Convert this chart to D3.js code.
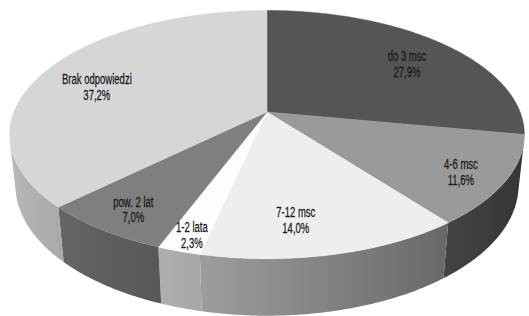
<!DOCTYPE html>
<html>
<head>
<meta charset="utf-8">
<script src="https://cdn.jsdelivr.net/npm/d3@7"></script>
<style>
  body { margin: 0; background: #fff; }
  svg { display: block; }
</style>
</head>
<body>
<div id="vis"></div>
<script>
'use strict';

// chart data
var categories = ['do 3 msc', '4-6 msc', '7-12 msc', '1-2 lata', 'pow. 2 lat', 'Brak odpowiedzi'];
var values = [27.9, 11.6, 14.0, 2.3, 7.0, 37.2];
var topColors = ['#555555', '#9a9a9a', '#eeeeee', '#fdfdfd', '#7f7f7f', '#d6d6d6'];
// label placement: fraction of radius and small angle shift (deg) from the slice middle
var labelRadius = [0.735, 0.84, 0.78, 0.90, 0.845, 0.73];
var labelShift = [4, 2, 5.4, -0.6, -0.5, -6.1];

var width = 529, height = 316;

var svg = d3.select('#vis').append('svg')
    .attr('width', width)
    .attr('height', height);
var defs = svg.append('defs');

// perspective camera looking down at the disk
var cx = 267, cy0 = 112;
var tilt = 28.3 * Math.PI / 180;
var dist = 4.84, focal = 1225, thick = 0.23;

function project(X, Z, Y) {
  var yc = Y * Math.cos(tilt) - Z * Math.sin(tilt);
  var zc = dist - Y * Math.sin(tilt) - Z * Math.cos(tilt);
  return [cx + focal * X / zc, cy0 - focal * yc / zc];
}
function rim(a, Y) {
  return project(Math.sin(a), -Math.cos(a), Y);
}

var pie = d3.pie().sort(null).value(function(d) { return d.value; });
var data = categories.map(function(c, i) {
  return { name: c, value: values[i], color: topColors[i], lr: labelRadius[i], ls: labelShift[i] };
});
var arcs = pie(data);

var line = d3.line();
var step = Math.PI / 360;

// side walls, only the part facing the viewer, shaded by a horizontal gradient
var zMin = 1 / (dist * Math.cos(tilt));
var aMin = Math.acos(-zMin), aMax = 2 * Math.PI - aMin;
var sideG = svg.append('g');
arcs.forEach(function(d, i) {
  var a0 = Math.max(d.startAngle, aMin), a1 = Math.min(d.endAngle, aMax);
  if (a1 <= a0) return;
  var base = d3.rgb(d.data.color);
  var topPts = [], botPts = [], angs = [];
  var n = Math.max(2, Math.ceil((a1 - a0) / step));
  for (var k = 0; k <= n; k++) {
    var a = a0 + (a1 - a0) * k / n;
    angs.push(a);
    topPts.push(rim(a, 0));
    botPts.push(rim(a, -thick));
  }
  var xs = topPts.map(function(p) { return p[0]; });
  var xL = d3.min(xs), xR = d3.max(xs);
  var grad = defs.append('linearGradient')
    .attr('id', 'side' + i)
    .attr('gradientUnits', 'userSpaceOnUse')
    .attr('x1', xL).attr('x2', xR).attr('y1', 0).attr('y2', 0);
  var toOff = d3.scaleLinear().domain([xL, xR]).range([0, 1]);
  var stops = angs.filter(function(a, k) { return k % 6 === 0 || k === n; });
  stops.sort(function(p, q) { return rim(p, 0)[0] - rim(q, 0)[0]; });
  stops.forEach(function(a) {
    var f = 0.6 - 0.27 * Math.sin(a);
    grad.append('stop')
      .attr('offset', toOff(rim(a, 0)[0]))
      .attr('stop-color', d3.rgb(base.r * f, base.g * f, base.b * f).toString());
  });
  sideG.append('path')
    .attr('d', line(topPts.concat(botPts.reverse())) + 'Z')
    .attr('fill', 'url(#side' + i + ')');
});

// top faces
var topG = svg.append('g');
arcs.forEach(function(d) {
  var pts = [project(0, 0, 0)];
  for (var a = d.startAngle; a < d.endAngle; a += step) pts.push(rim(a, 0));
  pts.push(rim(d.endAngle, 0));
  topG.append('path')
    .attr('d', line(pts) + 'Z')
    .attr('fill', d.data.color)
    .attr('stroke', d.data.color)
    .attr('stroke-width', 0.5)
    .attr('stroke-linejoin', 'round');
});

// labels
var fmt = function(v) { return d3.format('.1f')(v).replace('.', ',') + '%'; };
var labG = svg.append('g')
  .style('font-family', '"Liberation Sans", Arial, sans-serif')
  .style('font-size', '14px')
  .attr('fill', '#1a1a1a')
  .attr('stroke', '#1a1a1a')
  .attr('stroke-width', 0.25);
arcs.forEach(function(d) {
  var mid = (d.startAngle + d.endAngle) / 2 + d.data.ls * Math.PI / 180;
  var p = project(d.data.lr * Math.sin(mid), -d.data.lr * Math.cos(mid), 0);
  var g = labG.append('g')
    .attr('transform', 'translate(' + p[0] + ',' + p[1] + ') scale(0.68,1)');
  g.append('text').attr('text-anchor', 'middle').attr('dominant-baseline', 'central')
    .attr('y', -7.75).text(d.data.name);
  g.append('text').attr('text-anchor', 'middle').attr('dominant-baseline', 'central')
    .attr('y', 7.75).text(fmt(d.data.value));
});
</script>
</body>
</html>
